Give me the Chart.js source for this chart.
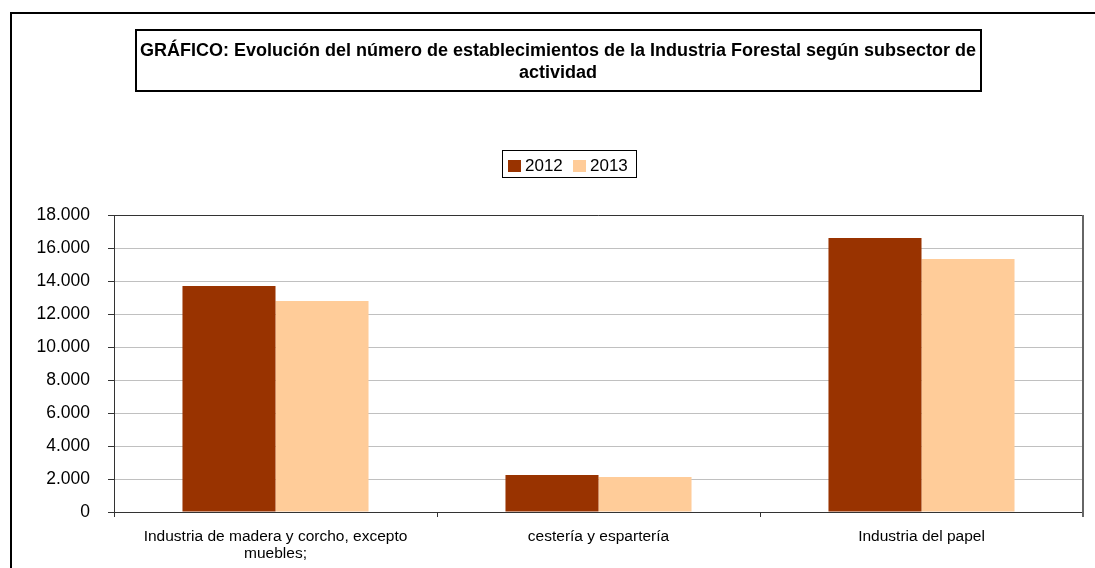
<!DOCTYPE html>
<html lang="es">

<head>
    <meta charset="UTF-8">
    <title>Evolución del número de establecimientos</title>
    <script src="https://cdn.jsdelivr.net/npm/chart.js"></script>
    <style>
        body { margin: 0; background: #fff; }
    </style>
</head>

<body>
    <canvas id="chart" width="1095" height="568"></canvas>

    <script>
        // datos del gráfico
        const categorias = [
            ["Industria de madera y corcho, excepto", "muebles;"],
            "cestería y espartería",
            "Industria del papel"
        ];
        const anios = ["2012", "2013"];
        const valores2012 = [13700, 2240, 16600];
        const valores2013 = [12790, 2120, 15330];
        const titulo = [
            "GRÁFICO: Evolución del número de establecimientos de la Industria Forestal según subsector de",
            "actividad"
        ];

        function formatoMiles(n) {
            return n.toString().replace(/\B(?=(\d{3})+(?!\d))/g, ".");
        }

        const FUENTE = "'Liberation Sans', Arial, sans-serif";

        // marco, título y leyenda con cajas (estilo Excel)
        const cajas = {
            id: 'cajas',
            afterDraw(chart) {
                const ctx = chart.ctx;
                const area = chart.chartArea;
                ctx.save();

                // marco exterior
                ctx.strokeStyle = '#000';
                ctx.lineWidth = 2;
                ctx.strokeRect(11, 13, 2000, 2000);

                // borde del área de trazado
                ctx.lineWidth = 1;
                ctx.strokeStyle = '#333';
                ctx.beginPath();
                ctx.moveTo(area.left, area.top + 0.5);
                ctx.lineTo(area.right, area.top + 0.5);
                ctx.stroke();
                ctx.strokeStyle = '#666';
                ctx.lineWidth = 2;
                ctx.beginPath();
                ctx.moveTo(area.right, area.top);
                ctx.lineTo(area.right, area.bottom + 5);
                ctx.stroke();

                // caja del título
                ctx.lineWidth = 2;
                ctx.strokeStyle = '#000';
                ctx.strokeRect(136, 30, 845, 61);
                ctx.fillStyle = '#000';
                ctx.font = "bold 18px " + FUENTE;
                ctx.textAlign = 'center';
                ctx.textBaseline = 'middle';
                ctx.fillText(titulo[0], 558, 51);
                ctx.fillText(titulo[1], 558, 73);

                // leyenda
                ctx.lineWidth = 1;
                ctx.strokeStyle = '#000';
                ctx.strokeRect(502.5, 150.5, 134, 27);
                ctx.font = "17px " + FUENTE;
                ctx.textAlign = 'left';
                let x = 508;
                chart.data.datasets.forEach(ds => {
                    ctx.fillStyle = ds.backgroundColor;
                    ctx.fillRect(x, 160, 13, 12);
                    ctx.fillStyle = '#000';
                    ctx.fillText(ds.label, x + 17, 166);
                    x += 65;
                });

                ctx.restore();
            }
        };

        const ctx = document.getElementById('chart').getContext('2d');
        const chart = new Chart(ctx, {
            type: 'bar',
            data: {
                labels: categorias,
                datasets: [{
                    label: anios[0],
                    data: valores2012,
                    backgroundColor: '#993300'
                }, {
                    label: anios[1],
                    data: valores2013,
                    backgroundColor: '#FFCC99'
                }]
            },
            options: {
                responsive: false,
                animation: false,
                categoryPercentage: 0.576,
                barPercentage: 1,
                layout: {
                    padding: { left: 0, right: 12, top: 215, bottom: 0 }
                },
                scales: {
                    x: {
                        afterFit: function (scale) { scale.height = 56; },
                        grid: {
                            drawOnChartArea: false,
                            tickLength: 5,
                            tickColor: '#333'
                        },
                        border: { color: '#333' },
                        ticks: {
                            color: '#000',
                            padding: 11,
                            maxRotation: 0,
                            autoSkip: false,
                            font: { family: FUENTE, size: 15.5, lineHeight: 1.1 }
                        }
                    },
                    y: {
                        min: 0,
                        max: 18000,
                        afterFit: function (scale) { scale.width = 114; },
                        grid: {
                            color: '#c0c0c0',
                            tickColor: '#333',
                            tickLength: 6
                        },
                        border: { color: '#333' },
                        ticks: {
                            stepSize: 2000,
                            color: '#000',
                            padding: 18,
                            font: { family: FUENTE, size: 17.5 },
                            callback: function (value) {
                                return formatoMiles(value);
                            }
                        }
                    }
                },
                plugins: {
                    legend: { display: false },
                    title: { display: false },
                    tooltip: { enabled: false }
                }
            },
            plugins: [cajas]
        });
    </script>
</body>

</html>
